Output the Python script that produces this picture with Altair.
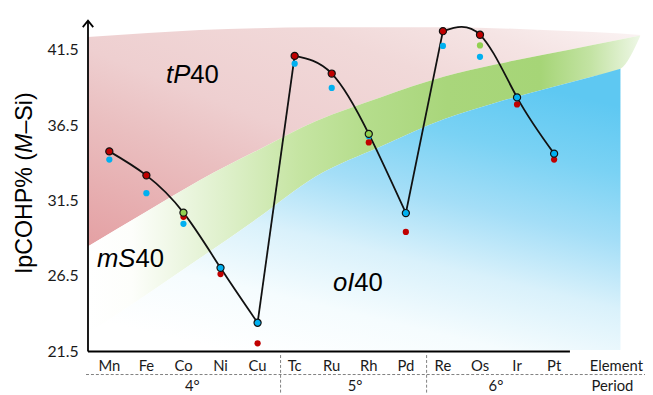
import altair as alt
import pandas as pd

# ---------------- data ----------------
elements = ["Mn", "Fe", "Co", "Ni", "Cu", "Tc", "Ru", "Rh", "Pd", "Re", "Os", "Ir", "Pt"]
main_value = [34.76, 33.17, 30.70, 27.04, 23.40, 41.09, 39.92, 35.92, 30.67, 42.73, 42.49, 38.34, 34.61]
main_phase = ["tP40", "tP40", "mS40", "oI40", "oI40", "tP40", "tP40", "mS40", "oI40",
              "tP40", "tP40", "oI40", "oI40"]

extra_element = ["Mn", "Fe", "Co", "Co", "Ni", "Cu", "Tc", "Ru", "Rh", "Rh", "Pd",
                 "Re", "Os", "Os", "Ir", "Pt"]
extra_value = [34.22, 31.99, 30.42, 29.96, 26.63, 22.04, 40.57, 38.97, 35.76, 35.35, 29.42,
               41.75, 41.78, 41.03, 37.87, 34.22]
extra_phase = ["oI40", "oI40", "tP40", "oI40", "tP40", "tP40", "oI40", "oI40", "oI40", "tP40",
               "tP40", "oI40", "mS40", "oI40", "tP40", "tP40"]

periods = ["4°", "5°", "6°"]
period_label_at = [2.24, 6.63, 10.43]
period_breaks = [4.62, 8.56]

y_ticks = [21.5, 26.5, 31.5, 36.5, 41.5]

# stability-field boundaries (element index, IpCOHP%)
band_x = [-0.58, 1.04, 2.44, 3.98, 5.58, 7.31, 9.04, 10.38, 11.71, 13.04, 13.79, 14.32]
tp_top = [42.34, 42.60, 42.80, 42.93, 42.99, 42.99, 42.99, 42.93, 42.80, 42.67, 42.57, 42.47]
ms_top = [28.46, 30.82, 32.85, 34.81, 36.77, 38.34, 39.72, 40.50, 41.16, 41.81, 42.17, 42.44]
ms_bottom = [22.70, 25.32, 27.67, 30.29, 33.11, 35.07, 36.90, 37.95, 38.87, 39.72, 40.24, 42.40]
oi_floor = 21.6

phases = ["tP40", "mS40", "oI40"]
phase_colors = ["#c00000", "#92d050", "#00b0f0"]

# ---------------- frames ----------------
idx = {e: i for i, e in enumerate(elements)}
main_df = pd.DataFrame({"el": elements, "i": range(len(elements)), "v": main_value, "phase": main_phase})
extra_df = pd.DataFrame({"el": extra_element, "i": [idx[e] for e in extra_element],
                         "v": extra_value, "phase": extra_phase})

smooth_rows = []
for s, group in enumerate([range(0, 5), range(5, 9), range(9, 13)]):
    for k in group:
        smooth_rows.append({"i": k, "v": main_value[k], "seg": s})
smooth_df = pd.DataFrame(smooth_rows)
lin_rows = []
for s, (a, b) in enumerate([(4, 5), (8, 9)]):
    for k in (a, b):
        lin_rows.append({"i": k, "v": main_value[k], "seg": s})
lin_df = pd.DataFrame(lin_rows)

band_df = pd.DataFrame({"x": band_x, "tp": tp_top, "mt": ms_top, "mb": ms_bottom})
blue_df = band_df[band_df["x"] <= 13.8].copy()
blue_df["fl"] = oi_floor

XS = alt.Scale(domain=[-0.5755, 14.452], nice=False, zero=False)
YS = alt.Scale(domain=[18.77, 44.106], nice=False, zero=False)
CS = alt.Scale(domain=phases, range=phase_colors)

def grad(stops, x1, y1, x2, y2):
    return alt.Gradient(gradient="linear",
                        stops=[alt.GradientStop(color=c, offset=o) for o, c in stops],
                        x1=x1, y1=y1, x2=x2, y2=y2)

red_area = alt.Chart(band_df).mark_area(
    interpolate="monotone",
    color=grad([(0, "#e4a0a3"), (0.3, "#eabfc0"), (0.45, "#eecfd0"), (0.7, "#f1d9d9"),
                (0.85, "#f5e4e4"), (1, "#fbf4f4")], 0, 1, 1, 0)
).encode(x=alt.X("x:Q", scale=XS, axis=None), y=alt.Y("tp:Q", scale=YS), y2="mt:Q")

green_area = alt.Chart(band_df).mark_area(
    interpolate="monotone",
    color=grad([(0, "#ffffff"), (0.08, "#fdfefb"), (0.16, "#eef7e4"), (0.26, "#dcefc7"),
                (0.38, "#c6e5a3"), (0.5, "#b5dd8c"), (0.65, "#a9d67b"), (0.82, "#a6d577"),
                (0.91, "#c3e3a3"), (1, "#eef7e6")], 0, 0, 1, 0)
).encode(x=alt.X("x:Q", scale=XS), y=alt.Y("mt:Q", scale=YS), y2="mb:Q")

blue_area = alt.Chart(blue_df).mark_area(
    interpolate="monotone",
    color=grad([(0, "#ffffff"), (0.2, "#f5fcfe"), (0.4, "#d9f1fb"), (0.6, "#a4def7"),
                (0.8, "#7ad2f4"), (1, "#5ec8f2")], 0.25, 1, 0.7, 0)
).encode(x=alt.X("x:Q", scale=XS), y=alt.Y("mb:Q", scale=YS), y2="fl:Q")

smooth_line = alt.Chart(smooth_df).mark_line(interpolate="natural", color="#111111", strokeWidth=1.8).encode(
    x=alt.X("i:Q", scale=XS), y=alt.Y("v:Q", scale=YS), detail="seg:N")
lin_line = alt.Chart(lin_df).mark_line(color="#111111", strokeWidth=1.8).encode(
    x=alt.X("i:Q", scale=XS), y=alt.Y("v:Q", scale=YS), detail="seg:N")

small_pts = alt.Chart(extra_df).mark_circle(size=40, opacity=1).encode(
    x=alt.X("i:Q", scale=XS), y=alt.Y("v:Q", scale=YS),
    color=alt.Color("phase:N", scale=CS, legend=None))
big_pts = alt.Chart(main_df).mark_point(shape="circle", filled=True, size=52, opacity=1,
                                        stroke="#111111", strokeWidth=1.2).encode(
    x=alt.X("i:Q", scale=XS),
    y=alt.Y("v:Q", scale=YS, axis=alt.Axis(values=y_ticks, format=".1f", domain=False, ticks=False,
                                            grid=False, labelFont="Lato", labelFontSize=16,
                                            labelColor="#1a1a1a", labelPadding=10, title=None)),
    fill=alt.Fill("phase:N", scale=CS, legend=None))

one = pd.DataFrame({"k": [0]})

def txt(s, x, y, size, font="Liberation Sans", style="normal", align="left", angle=0,
        baseline="alphabetic", color="#000000"):
    kw = dict(fontSize=size, font=font, fontStyle=style, align=align, baseline=baseline, color=color)
    if angle:
        kw["angle"] = angle
    return alt.Chart(one).mark_text(**kw).encode(x=alt.value(x), y=alt.value(y), text=alt.value(s))

x_axis = alt.Chart(one).mark_rule(color="#000000", strokeWidth=2).encode(
    x=alt.value(0), x2=alt.value(488), y=alt.value(345.3))
y_axis = alt.Chart(one).mark_rule(color="#000000", strokeWidth=1.8).encode(
    x=alt.value(0), y=alt.value(10.8), y2=alt.value(345.3))
arrow = alt.Chart(one).mark_point(shape="M -1 1.25 L 0 0 L 1 1.25", filled=False, size=112,
                                  stroke="#000000", strokeWidth=1.8, opacity=1).encode(
    x=alt.value(0), y=alt.value(10.3))
hdash = alt.Chart(one).mark_rule(color="#7f7f7f", strokeWidth=1, strokeDash=[3, 2]).encode(
    x=alt.value(-2), x2=alt.value(564), y=alt.value(368.7))
vdash = alt.Chart(pd.DataFrame({"b": period_breaks})).mark_rule(
    color="#7f7f7f", strokeWidth=1, strokeDash=[3, 2]).encode(
    x=alt.X("b:Q", scale=XS), y=alt.value(349), y2=alt.value(387))

el_labels = alt.Chart(main_df).mark_text(font="Lato", fontSize=15, color="#1a1a1a",
                                         baseline="alphabetic").encode(
    x=alt.X("i:Q", scale=XS), y=alt.value(365.3), text="el:N")
per_labels = alt.Chart(pd.DataFrame({"p": periods, "at": period_label_at})).mark_text(
    font="Lato", fontSize=15, color="#1a1a1a", baseline="alphabetic").encode(
    x=alt.X("at:Q", scale=XS), y=alt.value(385.3), text="p:N")

texts = [
    txt("Element", 535, 365.3, 15, font="Lato", align="center", color="#1a1a1a"),
    txt("Period", 531, 385.3, 15, font="Lato", align="center", color="#1a1a1a"),
    txt("IpCOHP% (", -56.5, 267, 23.5, angle=270),
    txt("M", -56.5, 144.3, 23.5, style="italic", angle=270),
    txt("–Si)", -56.5, 124.7, 23.5, angle=270),
    txt("tP", 79, 74, 26, style="italic"),
    txt("40", 103.6, 74, 26),
    txt("mS", 9, 260, 26, style="italic"),
    txt("40", 48, 260, 26),
    txt("oI", 248, 283.7, 26, style="italic"),
    txt("40", 269.7, 283.7, 26),
]

chart = alt.layer(
    red_area, green_area, blue_area, smooth_line, lin_line, small_pts, big_pts,
    x_axis, y_axis, arrow, hdash, vdash, el_labels, per_labels, *texts
).resolve_scale(color="shared").properties(
    width=564, height=387,
    padding={"left": 81, "top": 0, "right": 0, "bottom": 0},
    autosize=alt.AutoSizeParams(type="none"),
    background="white",
).configure_view(stroke=None)

chart.save("out.html", embed_options={"renderer": "svg", "actions": False})
